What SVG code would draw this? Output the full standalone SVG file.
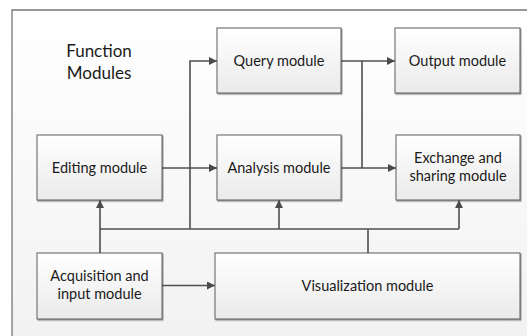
<svg xmlns="http://www.w3.org/2000/svg" width="527" height="336" viewBox="0 0 527 336" overflow="hidden">
<defs>
<linearGradient id="gBox" x1="0" y1="0" x2="0" y2="1">
<stop offset="0" stop-color="#ffffff"/>
<stop offset="1" stop-color="#eaeaea"/>
</linearGradient>
<linearGradient id="gFrame" x1="0" y1="0" x2="0" y2="1">
<stop offset="0" stop-color="#ffffff"/>
<stop offset="1" stop-color="#f2f2f2"/>
</linearGradient>
<filter id="sh" filterUnits="userSpaceOnUse" x="0" y="0" width="527" height="336">
<feDropShadow dx="1" dy="1.2" stdDeviation="0.7" flood-color="#707070" flood-opacity="0.7"/>
</filter>
<marker id="arr" markerUnits="userSpaceOnUse" markerWidth="9" markerHeight="9" refX="8" refY="4" orient="auto">
<path d="M0,0 L8,4 L0,8 z" fill="#4a4a4a"/>
</marker>
<style>
.box{fill:url(#gBox);stroke:#6a6a6a;stroke-width:1.1;filter:url(#sh)}
.t{font-family:Lato,"Open Sans","DejaVu Sans",sans-serif;font-size:14.5px;fill:#1a1a1a;text-anchor:middle}
.title{font-size:17px}
.c{fill:none;stroke:#4f4f4f;stroke-width:1.6}
</style>
</defs>
<g id="frame">
<rect x="12" y="10" width="515" height="326" fill="url(#gFrame)"/>
<path d="M12,336 V10 H527" fill="none" stroke="#777" stroke-width="1.3"/>
</g>
<g id="title"><text class="t title" x="99" y="57">Function</text><text class="t title" x="99" y="79">Modules</text></g>
<g id="query"><rect class="box" x="217" y="28" width="124" height="65"/><text class="t" x="279" y="66">Query module</text></g>
<g id="output"><rect class="box" x="395" y="28" width="125" height="65"/><text class="t" x="457.5" y="66">Output module</text></g>
<g id="editing"><rect class="box" x="37" y="135" width="125" height="65"/><text class="t" x="99.5" y="173">Editing module</text></g>
<g id="analysis"><rect class="box" x="217" y="135" width="124" height="65"/><text class="t" x="279" y="173">Analysis module</text></g>
<g id="exchange"><rect class="box" x="396" y="135" width="124" height="65"/><text class="t" x="458" y="163">Exchange and</text><text class="t" x="458" y="181">sharing module</text></g>
<g id="acquisition"><rect class="box" x="37" y="253" width="125" height="66"/><text class="t" x="99.5" y="281">Acquisition and</text><text class="t" x="99.5" y="299">input module</text></g>
<g id="visualization"><rect class="box" x="215" y="253" width="305" height="66"/><text class="t" x="367.5" y="291">Visualization module</text></g>
<g id="connectors">
<path class="c" d="M100,253 V200" marker-end="url(#arr)"/>
<path class="c" d="M100,229 H459"/>
<path class="c" d="M190,229 V61 H217" marker-end="url(#arr)"/>
<path class="c" d="M279,229 V200" marker-end="url(#arr)"/>
<path class="c" d="M459,229 V200" marker-end="url(#arr)"/>
<path class="c" d="M368,253 V229"/>
<path class="c" d="M162,285.5 H215" marker-end="url(#arr)"/>
<path class="c" d="M162,168 H217" marker-end="url(#arr)"/>
<path class="c" d="M341,61 H395" marker-end="url(#arr)"/>
<path class="c" d="M362,61 V168"/>
<path class="c" d="M341,168 H396" marker-end="url(#arr)"/>
</g>
</svg>
